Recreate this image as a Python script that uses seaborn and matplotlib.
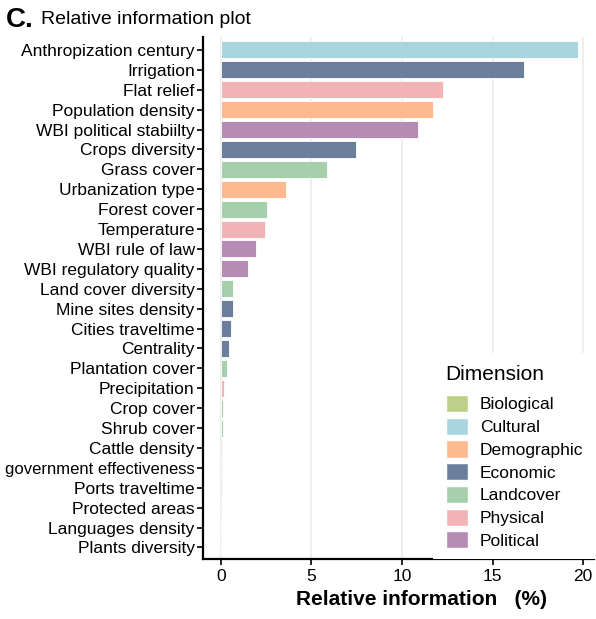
import pandas as pd
import matplotlib.pyplot as plt
import seaborn as sns
from matplotlib.patches import Patch, Rectangle

# Variables, their dimension and relative information (%)
variables = ['Anthropization century', 'Irrigation', 'Flat relief', 'Population density',
             'WBI political stabiilty', 'Crops diversity', 'Grass cover', 'Urbanization type',
             'Forest cover', 'Temperature', 'WBI rule of law', 'WBI regulatory quality',
             'Land cover diversity', 'Mine sites density', 'Cities traveltime', 'Centrality',
             'Plantation cover', 'Precipitation', 'Crop cover', 'Shrub cover', 'Cattle density',
             'government effectiveness', 'Ports traveltime', 'Protected areas',
             'Languages density', 'Plants diversity']
dimensions = ['Cultural', 'Economic', 'Physical', 'Demographic',
              'Political', 'Economic', 'Landcover', 'Demographic',
              'Landcover', 'Physical', 'Political', 'Political',
              'Landcover', 'Economic', 'Economic', 'Economic',
              'Landcover', 'Physical', 'Landcover', 'Landcover', 'Economic',
              'Political', 'Economic', 'Biological',
              'Cultural', 'Biological']
rel_info = [19.72, 16.73, 12.24, 11.69,
            10.86, 7.48, 5.87, 3.60,
            2.55, 2.44, 1.94, 1.50,
            0.66, 0.66, 0.55, 0.44,
            0.33, 0.17, 0.12, 0.12, 0.06,
            0.05, 0.05, 0.04,
            0.01, 0.01]

dim_order = ['Biological', 'Cultural', 'Demographic', 'Economic', 'Landcover', 'Physical', 'Political']
dim_colors = ['#bdd08a', '#a8d5de', '#fdba8f', '#6b7f9c', '#a6d0ac', '#f2b3b7', '#b58db4']
palette = dict(zip(dim_order, dim_colors))

df = pd.DataFrame({'Variable': variables, 'Dimension': dimensions, 'Relative': rel_info})

sns.set_style('white')
plt.rcParams['font.family'] = ['Liberation Sans', 'DejaVu Sans']
plt.rcParams['text.color'] = 'black'

W, H = 596, 619
fig = plt.figure(figsize=(W / 100, H / 100), dpi=100)
ax = fig.add_axes([203 / W, 1 - 559 / H, (594 - 203) / W, (559 - 37) / H])

sns.barplot(data=df, y='Variable', x='Relative', hue='Dimension', hue_order=dim_order,
            palette=palette, dodge=False, width=0.85, edgecolor='white', linewidth=0.6,
            saturation=1, ax=ax, legend=False)

ax.set_xlim(-0.99, 20.6)
ax.set_ylim(25.58, -0.65)
ax.set_xticks([0, 5, 10, 15, 20])
ax.grid(axis='x', color='#ebebeb', linewidth=1.2)
ax.set_axisbelow(True)
for s in ['top', 'right']:
    ax.spines[s].set_visible(False)
for s in ['left', 'bottom']:
    ax.spines[s].set_linewidth(1.6)
    ax.spines[s].set_color('black')
ax.tick_params(axis='both', direction='out', length=4, width=1.2, color='black',
               labelsize=12.5, labelcolor='black', left=True, bottom=True, pad=2)
ax.tick_params(axis='x', pad=3)
for lab in ax.get_yticklabels():
    if lab.get_text() == 'government effectiveness':
        lab.set_fontsize(12)
ax.set_ylabel('')
ax.set_xlabel('Relative information   (%)', fontsize=15, fontweight='bold', color='black')
ax.xaxis.set_label_coords(0.56, -0.06)

# white legend background, covering the grid lines behind it
fig.patches.append(Rectangle((433 / W, 1 - 559 / H), (W - 433) / W, (559 - 353) / H,
                             transform=fig.transFigure, facecolor='white',
                             edgecolor='none', zorder=1))

# Legend
handles = [Patch(facecolor=palette[d], edgecolor='white') for d in dim_order]
fig.legend(handles, dim_order, loc='upper left', bbox_to_anchor=(446 / W, 1 - 395 / H),
           frameon=False, fontsize=12.5, handlelength=1.26, handleheight=1.15,
           labelspacing=0.3, handletextpad=0.7, borderaxespad=0, borderpad=0)
fig.text(445 / W, 1 - 375 / H, 'Dimension', fontsize=15, va='center', ha='left')

# Title
fig.text(6 / W, 1 - 20 / H, 'C.', fontsize=20, fontweight='bold', va='center', ha='left')
fig.text(41 / W, 1 - 20 / H, 'Relative information plot', fontsize=14, va='center', ha='left')

fig.savefig('out.png', dpi=100)
